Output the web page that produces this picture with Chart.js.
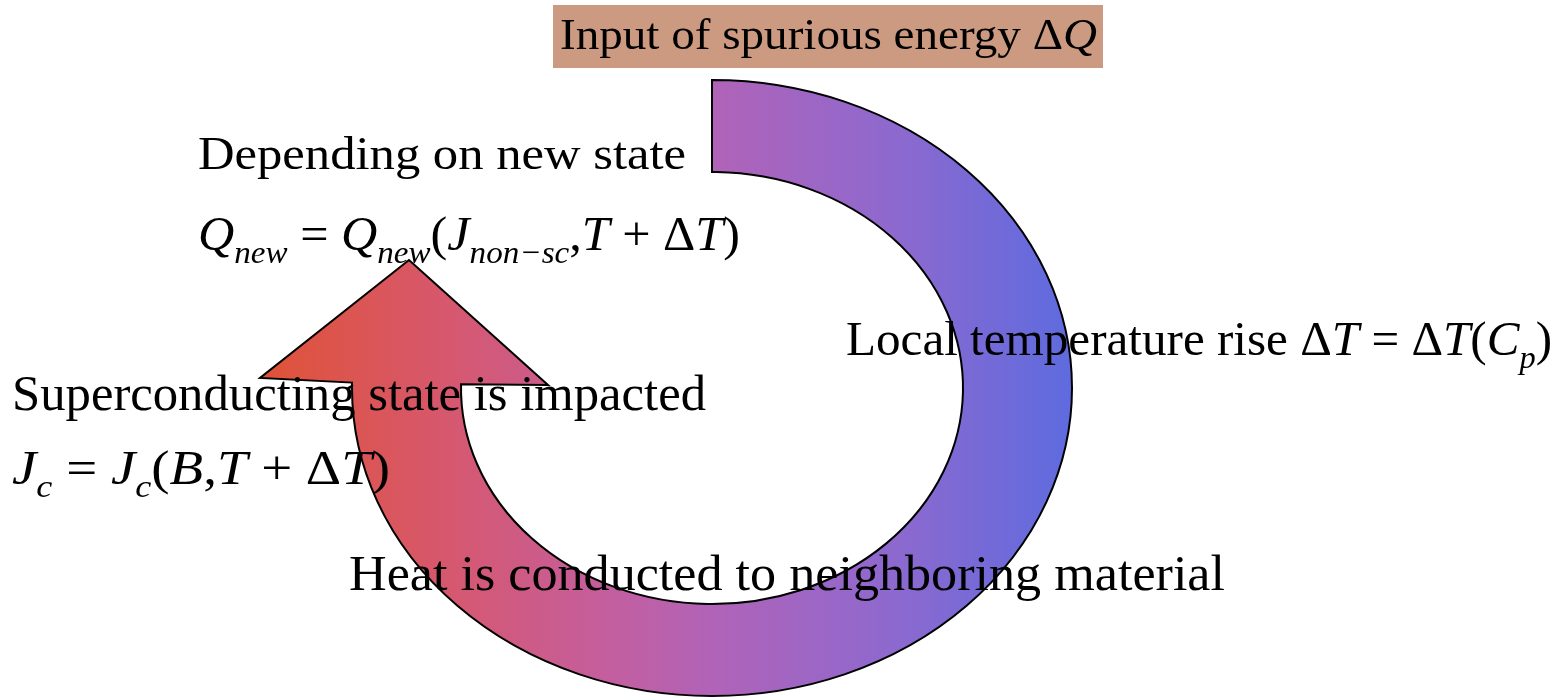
<!DOCTYPE html>
<html>
<head>
<meta charset="utf-8">
<script src="https://cdn.jsdelivr.net/npm/chart.js@4"></script>
<style>
  html, body { margin: 0; padding: 0; background: #fff; }
  #wrap { width: 1567px; height: 698px; position: relative; }
</style>
</head>
<body>
<div id="wrap"><canvas id="chart"></canvas></div>
<script>
// the diagram lives in picture units: x 0..1567 left to right, y 0..698 top to bottom

// label texts, as runs: [text, style]  (style: "i" italic, "s" italic subscript)
const labelRuns = [
  [["Input of spurious energy Δ"], ["Q", "i"]],
  [["Depending on new state"]],
  [["Q", "i"], ["new", "s"], [" = "], ["Q", "i"], ["new", "s"], ["("], ["J", "i"], ["non−sc", "s"], [","], ["T", "i"], [" + Δ"], ["T", "i"], [")"]],
  [["Superconducting state is impacted"]],
  [["J", "i"], ["c", "s"], [" = "], ["J", "i"], ["c", "s"], ["("], ["B", "i"], [","], ["T", "i"], [" + Δ"], ["T", "i"], [")"]],
  [["Local temperature rise Δ"], ["T", "i"], [" = Δ"], ["T", "i"], ["("], ["C", "i"], ["p", "s"], [")"]],
  [["Heat is conducted to neighboring material"]]
];
// where each label sits
const labelLeft  = [560, 198, 198, 12, 12, 846, 349];
const labelRight = [1097, 686, 740, 706, 390, 1552, 1225];
const labelBase  = [49, 169, 250, 410, 484, 355, 590];

// the highlighted box behind the first label: [x0, y0, x1, y1]
const boxCorners = [553, 5, 1103, 68];

// the curved arrow: a ring cut from two ellipses, ending in an arrow head
const ringCentre = [712, 388];
const ringOuter = [360, 308];
const ringInner = [251, 216];
const ringAngles = [-90, 181];          // degrees, clockwise from 3 o'clock
const arrowHead = [[260, 378], [409, 260], [548, 385]];

// left-to-right colour ramp of the arrow
const rampX = [258, 450, 600, 712, 900, 1075];
const rampColours = ["#e05236", "#d6586f", "#c55e9c", "#b163b8", "#8c69cf", "#5d6bdf"];

const SERIF = '"Liberation Serif", "Times New Roman", "DejaVu Serif", serif';
const CAP = 0.66;

function fontFor(style, size) {
  const s = style === "s" ? size * 0.66 : size;
  return (style ? "italic " : "") + s.toFixed(1) + "px " + SERIF;
}

function drawRuns(ctx, runs, left, right, base, size) {
  let w = 0;
  runs.forEach(r => {
    ctx.font = fontFor(r[1], size);
    w += ctx.measureText(r[0]).width;
  });
  const sx = (right - left) / w;
  ctx.save();
  ctx.translate(left, base);
  ctx.scale(sx, 1);
  ctx.fillStyle = "#000";
  ctx.textBaseline = "alphabetic";
  let x = 0;
  runs.forEach(r => {
    ctx.font = fontFor(r[1], size);
    ctx.fillText(r[0], x, r[1] === "s" ? size * 0.26 : 0);
    x += ctx.measureText(r[0]).width;
  });
  ctx.restore();
}

const diagram = {
  id: "diagram",
  beforeDatasetsDraw(chart) {
    const ctx = chart.ctx;
    const xs = chart.scales.x, ys = chart.scales.y;
    const px = v => xs.getPixelForValue(v);
    const py = v => ys.getPixelForValue(v);

    // box
    ctx.save();
    ctx.fillStyle = "#cc9a80";
    ctx.fillRect(px(boxCorners[0]), py(boxCorners[1]),
      px(boxCorners[2]) - px(boxCorners[0]), py(boxCorners[3]) - py(boxCorners[1]));

    // arrow
    const cx = px(ringCentre[0]), cy = py(ringCentre[1]);
    const orx = px(ringCentre[0] + ringOuter[0]) - cx, ory = py(ringCentre[1] + ringOuter[1]) - cy;
    const irx = px(ringCentre[0] + ringInner[0]) - cx, iry = py(ringCentre[1] + ringInner[1]) - cy;
    const a0 = ringAngles[0] * Math.PI / 180, a1 = ringAngles[1] * Math.PI / 180;

    ctx.beginPath();
    ctx.ellipse(cx, cy, orx, ory, 0, a0, a1, false);
    arrowHead.forEach(p => ctx.lineTo(px(p[0]), py(p[1])));
    ctx.ellipse(cx, cy, irx, iry, 0, a1, a0, true);
    ctx.closePath();

    const g = ctx.createLinearGradient(px(rampX[0]), 0, px(rampX[rampX.length - 1]), 0);
    const span = rampX[rampX.length - 1] - rampX[0];
    rampX.forEach((x, i) => g.addColorStop((x - rampX[0]) / span, rampColours[i]));
    ctx.fillStyle = g;
    ctx.fill();
    ctx.lineWidth = 2;
    ctx.strokeStyle = "#000";
    ctx.lineJoin = "miter";
    ctx.stroke();
    ctx.restore();
  },
  afterDatasetsDraw(chart) {
    const ctx = chart.ctx;
    const meta = chart.getDatasetMeta(0);
    const xs = chart.scales.x;
    // cap heights, turned into font sizes
    const sizes = [29, 30, 32, 33, 32, 32, 33].map(c => c / CAP);
    labelRuns.forEach((runs, i) => {
      const pt = meta.data[i];
      drawRuns(ctx, runs, pt.x, xs.getPixelForValue(labelRight[i]), pt.y, sizes[i]);
    });
  }
};

new Chart(document.getElementById("chart"), {
  type: "scatter",
  data: {
    datasets: [{
      data: labelLeft.map((x, i) => ({ x: x, y: labelBase[i] })),
      pointRadius: 0,
      pointHoverRadius: 0
    }]
  },
  options: {
    responsive: true,
    maintainAspectRatio: false,
    animation: false,
    layout: { padding: 0 },
    plugins: { legend: { display: false }, tooltip: { enabled: false } },
    scales: {
      x: { type: "linear", min: 0, max: 1567, display: false },
      y: { type: "linear", min: 0, max: 698, reverse: true, display: false }
    }
  },
  plugins: [diagram]
});
</script>
</body>
</html>
